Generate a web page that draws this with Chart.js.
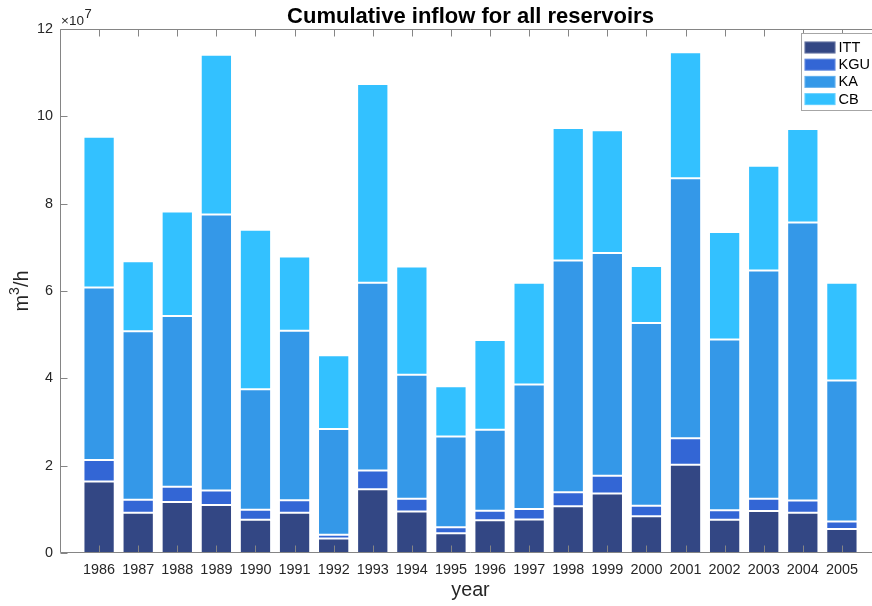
<!DOCTYPE html>
<html>
<head>
<meta charset="utf-8">
<script src="https://cdn.jsdelivr.net/npm/chart.js@4/dist/chart.umd.min.js"></script>
<style>
  html, body { margin: 0; padding: 0; background: #fff; overflow: hidden; }
  #wrap { width: 872px; height: 606px; overflow: hidden; position: relative; }
  canvas { display: block; }
</style>
</head>
<body>
<div id="wrap"><canvas id="c" width="891" height="606"></canvas></div>
<script>
// Values in units of 1e7 m^3/h (axis exponent x10^7)
const years = [1986,1987,1988,1989,1990,1991,1992,1993,1994,1995,1996,1997,1998,1999,2000,2001,2002,2003,2004,2005];
const ITT = [1.64,0.92,1.17,1.10,0.76,0.92,0.33,1.46,0.95,0.45,0.75,0.77,1.07,1.36,0.84,2.02,0.76,0.96,0.92,0.55];
const KGU = [0.49,0.30,0.35,0.33,0.23,0.29,0.09,0.43,0.29,0.14,0.22,0.24,0.32,0.41,0.24,0.61,0.22,0.28,0.28,0.17];
const KA  = [3.95,3.86,3.91,6.32,2.76,3.88,2.42,4.30,2.84,2.08,1.85,2.85,5.31,5.10,4.19,5.95,3.91,5.23,6.37,3.23];
const CB  = [3.45,1.60,2.39,3.66,3.65,1.70,1.69,4.55,2.48,1.15,2.06,2.33,3.03,2.81,1.30,2.89,2.46,2.40,2.14,2.24];
const seriesNames = ['ITT','KGU','KA','CB'];
const yTicks = [0,2,4,6,8,10,12];
const exponentLabel = ['\u00D710','7'];
const titleText = 'Cumulative inflow for all reservoirs';
const xTitle = 'year';
const yTitleParts = ['m','3','/h'];

const colors = ['#334784','#3366d5','#3498e8','#33c1ff'];
const FONT = "'Liberation Sans', Arial, Helvetica, sans-serif";
const AXIS = '#858585';

const seriesData = [ITT, KGU, KA, CB];
const datasets = seriesNames.map((n, i) => ({
  label: n,
  data: years.map((y, j) => ({x: y, y: seriesData[i][j]})),
  backgroundColor: colors[i],
  borderColor: 'rgba(255,255,255,0.14)',
  borderWidth: 1,
  borderSkipped: false,
  barPercentage: 0.8,
  categoryPercentage: 1.0
}));

const decor = {
  id: 'decor',
  afterDatasetsDraw(chart) {
    const ctx = chart.ctx;
    const a = chart.chartArea;
    const xs = chart.scales.x, ys = chart.scales.y;
    ctx.save();
    ctx.strokeStyle = AXIS;
    ctx.lineWidth = 1;
    // box
    const L = Math.round(a.left) + 0.5, R = Math.round(a.right) - 0.5;
    const T = Math.round(a.top) + 0.5, B = Math.round(a.bottom) - 0.5;
    ctx.beginPath();
    ctx.moveTo(L, T); ctx.lineTo(R, T); ctx.lineTo(R, B); ctx.lineTo(L, B); ctx.closePath();
    ctx.stroke();
    // inward ticks
    const tl = 7;
    ctx.beginPath();
    years.forEach(y => {
      const px = Math.round(xs.getPixelForValue(y)) + 0.5;
      ctx.moveTo(px, B); ctx.lineTo(px, B - tl);
      ctx.moveTo(px, T); ctx.lineTo(px, T + tl);
    });
    yTicks.forEach(v => {
      const py = Math.round(ys.getPixelForValue(v)) + 0.5;
      ctx.moveTo(L, py); ctx.lineTo(L + tl, py);
      ctx.moveTo(R, py); ctx.lineTo(R - tl, py);
    });
    ctx.stroke();

    // exponent label
    ctx.fillStyle = '#262626';
    ctx.textBaseline = 'alphabetic';
    ctx.textAlign = 'left';
    ctx.font = '13.5px ' + FONT;
    ctx.fillText(exponentLabel[0], a.left + 1, 25);
    const w = ctx.measureText(exponentLabel[0]).width;
    ctx.font = '13px ' + FONT;
    ctx.fillText(exponentLabel[1], a.left + 1.5 + w, 18);

    // y-axis title with superscript
    ctx.save();
    ctx.translate(28, (a.top + a.bottom) / 2);
    ctx.rotate(-Math.PI / 2);
    ctx.fillStyle = '#262626';
    const big = '20px ' + FONT, small = '14px ' + FONT;
    ctx.font = big; const w1 = ctx.measureText(yTitleParts[0]).width, w3 = ctx.measureText(yTitleParts[2]).width;
    ctx.font = small; const w2 = ctx.measureText(yTitleParts[1]).width;
    let x0 = -(w1 + w2 + w3) / 2;
    ctx.font = big; ctx.fillText(yTitleParts[0], x0, 0);
    ctx.font = small; ctx.fillText(yTitleParts[1], x0 + w1, -9);
    ctx.font = big; ctx.fillText(yTitleParts[2], x0 + w1 + w2, 0);
    ctx.restore();

    // title
    ctx.fillStyle = '#000';
    ctx.textAlign = 'center';
    ctx.font = 'bold 22px ' + FONT;
    ctx.fillText(titleText, (a.left + a.right) / 2, 23);

    // legend
    const lx = 801.5, ly = 33.5, lw = 80, lh = 77;
    ctx.fillStyle = '#fff';
    ctx.fillRect(lx, ly, lw, lh);
    ctx.strokeStyle = '#a6a6a6';
    ctx.strokeRect(lx, ly, lw, lh);
    ctx.font = '14.5px ' + FONT;
    ctx.textAlign = 'left';
    ctx.textBaseline = 'middle';
    seriesNames.forEach((n, i) => {
      const cy = 47.5 + i * 17.2;
      ctx.fillStyle = colors[i];
      ctx.fillRect(804.5, cy - 6, 31, 12);
      ctx.strokeStyle = 'rgba(255,255,255,0.25)';
      ctx.strokeRect(805, cy - 5.5, 30, 11);
      ctx.fillStyle = '#000';
      ctx.fillText(n, 838.5, cy + 0.5);
    });
    ctx.restore();
  }
};

new Chart(document.getElementById('c'), {
  type: 'bar',
  data: { datasets },
  options: {
    responsive: false,
    animation: false,
    layout: { padding: { top: 29, right: 10, bottom: 0, left: 0 } },
    plugins: { legend: { display: false }, tooltip: { enabled: false }, title: { display: false } },
    scales: {
      x: {
        type: 'linear',
        stacked: true,
        offset: false,
        min: 1985, max: 2006,
        grid: { display: false, drawTicks: false, offset: false },
        border: { display: false },
        ticks: {
          stepSize: 1,
          autoSkip: false,
          maxRotation: 0,
          padding: 8,
          color: '#262626',
          font: { family: FONT, size: 14.4 },
          callback: v => (v >= years[0] && v <= years[years.length - 1]) ? String(v) : ''
        },
        title: {
          display: true, text: xTitle, color: '#262626',
          font: { family: FONT, size: 19.7 },
          padding: { top: 0, bottom: 4 }
        },
        afterFit(s) { s.height = 53; }
      },
      y: {
        stacked: true,
        min: 0, max: 12,
        grid: { display: false, drawTicks: false },
        border: { display: false },
        ticks: {
          stepSize: 2,
          padding: 7,
          color: '#262626',
          font: { family: FONT, size: 14.4 },
          callback: v => String(v)
        },
        afterFit(s) { s.width = 60; }
      }
    }
  },
  plugins: [decor]
});
</script>
</body>
</html>
